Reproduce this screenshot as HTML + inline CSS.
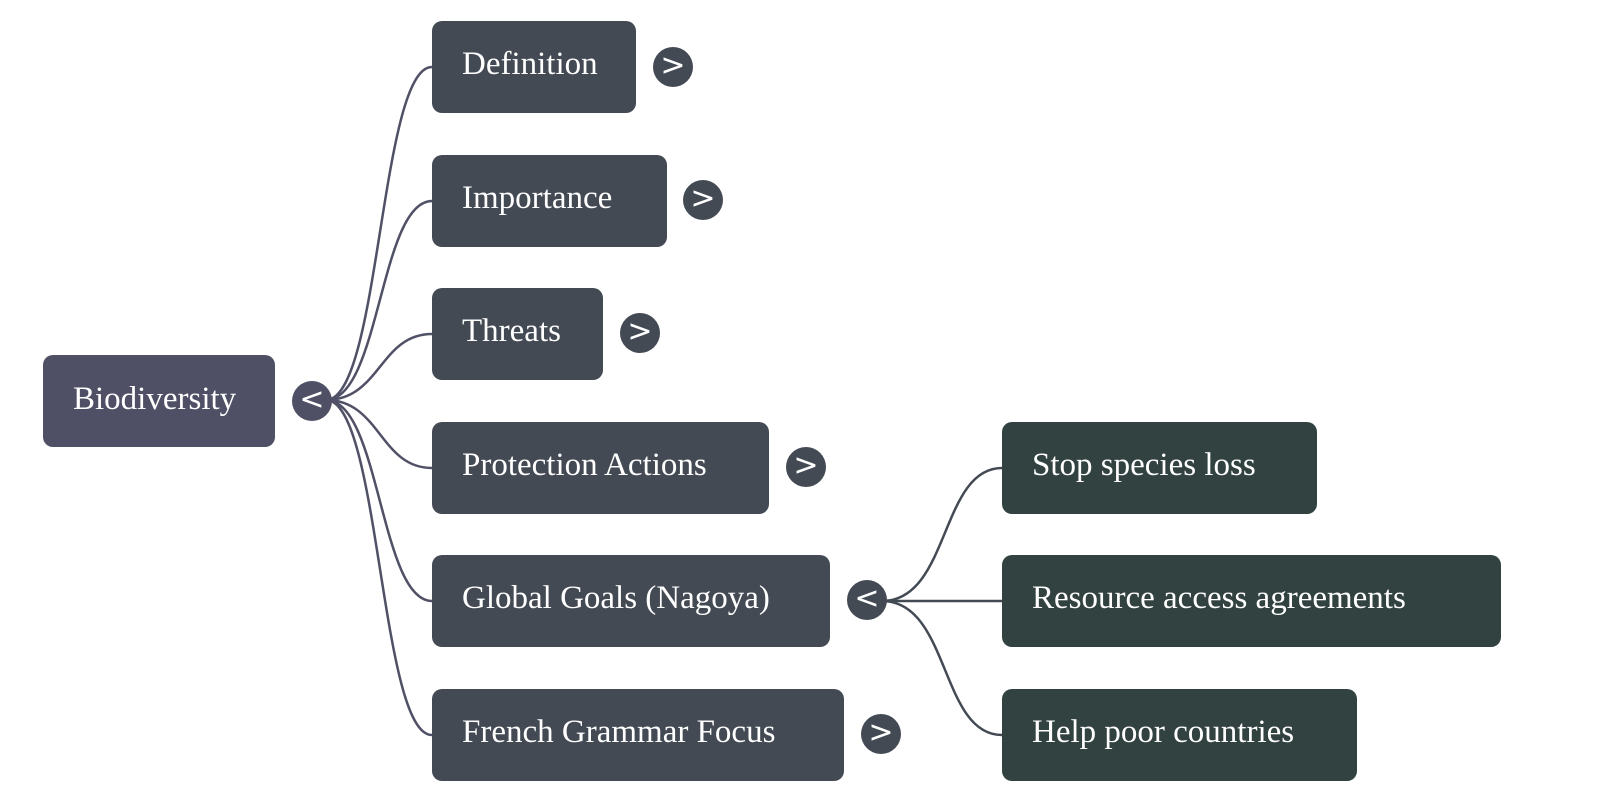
<!DOCTYPE html>
<html><head><meta charset="utf-8"><style>
html,body{margin:0;padding:0;background:#fff;width:1600px;height:802px;overflow:hidden}
.b{position:absolute;border-radius:10px;color:#fff;font:33px "Liberation Serif",serif;box-sizing:border-box;padding-left:30px;line-height:86px;white-space:nowrap}
.c{background:#434a54}.g{background:#324240}.r{background:#4f5066}
.o{position:absolute;width:40px;height:40px;border-radius:50%;background:#434a54;color:#fff;font:30px "DejaVu Sans",sans-serif;text-align:center;line-height:38px}
</style></head><body>
<svg width="1600" height="802" style="position:absolute;left:0;top:0" fill="none" stroke-width="2.5">
<g stroke="#505066">
<path d="M326 400 C380 400 380 67 432 67"/>
<path d="M326 400 C380 400 380 201 432 201"/>
<path d="M326 400 C380 400 380 334 432 334"/>
<path d="M326 400 C380 400 380 468 432 468"/>
<path d="M326 400 C380 400 380 601 432 601"/>
<path d="M326 400 C380 400 380 735 432 735"/>
</g>
<g stroke="#434a54">
<path d="M882 601 C950 601 940 468 1002 468"/>
<path d="M882 601 L1002 601"/>
<path d="M882 601 C950 601 940 735 1002 735"/>
</g>
</svg>
<div class="b r" style="left:43px;top:355px;width:232px;height:92px;line-height:88px">Biodiversity</div>
<div class="o" style="left:292px;top:381px;background:#4f5066">&lt;</div>
<div class="b c" style="left:432px;top:21px;width:204px;height:92px">Definition</div>
<div class="o" style="left:653px;top:47px">&gt;</div>
<div class="b c" style="left:432px;top:155px;width:235px;height:92px">Importance</div>
<div class="o" style="left:683px;top:180px">&gt;</div>
<div class="b c" style="left:432px;top:288px;width:171px;height:92px">Threats</div>
<div class="o" style="left:620px;top:313px">&gt;</div>
<div class="b c" style="left:432px;top:422px;width:337px;height:92px">Protection Actions</div>
<div class="o" style="left:786px;top:447px">&gt;</div>
<div class="b c" style="left:432px;top:555px;width:398px;height:92px">Global Goals (Nagoya)</div>
<div class="o" style="left:847px;top:580px">&lt;</div>
<div class="b c" style="left:432px;top:689px;width:412px;height:92px">French Grammar Focus</div>
<div class="o" style="left:861px;top:714px">&gt;</div>
<div class="b g" style="left:1002px;top:422px;width:315px;height:92px">Stop species loss</div>
<div class="b g" style="left:1002px;top:555px;width:499px;height:92px">Resource access agreements</div>
<div class="b g" style="left:1002px;top:689px;width:355px;height:92px">Help poor countries</div>
</body></html>
